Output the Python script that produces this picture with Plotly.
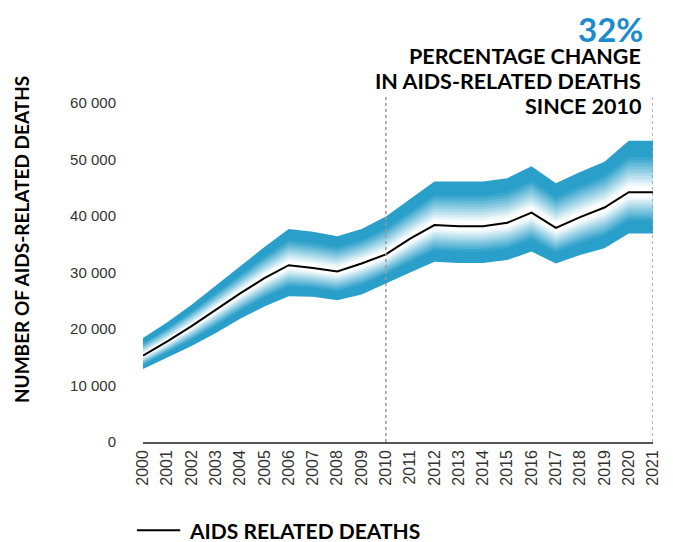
import plotly.graph_objects as go

years = list(range(2000, 2022))
deaths = [15300, 17800, 20500, 23400, 26300, 29000, 31300, 30800, 30200, 31600, 33200,
          36000, 38400, 38200, 38200, 38800, 40600, 37900, 39800, 41500, 44200, 44200]
upper = [18400, 21200, 24300, 27700, 31200, 34500, 37700, 37200, 36400, 37700, 39900,
         43000, 46100, 46100, 46100, 46700, 48800, 45800, 47800, 49600, 53300, 53300]
lower = [12900, 14900, 17000, 19300, 21800, 24000, 25800, 25700, 25100, 26100, 28100,
         30000, 31900, 31700, 31700, 32200, 33700, 31600, 33100, 34300, 36900, 36900]

BLUE = (42, 159, 202)
STEPS = 16


def shade(f):
    # f = 0 at the estimate line, 1 at the bound
    t = (f - 0.1) / 0.6
    t = max(0.0, min(1.0, t))
    r = int(255 + (BLUE[0] - 255) * t)
    g = int(255 + (BLUE[1] - 255) * t)
    b = int(255 + (BLUE[2] - 255) * t)
    return "rgb(%d,%d,%d)" % (r, g, b)


fig = go.Figure()

# gradient band: overlapping polygons, outermost first, so no seams show
for bound in [upper, lower]:
    for k in range(STEPS, 0, -1):
        f = k / STEPS
        ys = [d + (u - d) * f for d, u in zip(deaths, bound)]
        fig.add_trace(go.Scatter(x=years + years[::-1], y=ys + deaths[::-1],
                                 mode="lines", line=dict(width=0),
                                 fill="toself", fillcolor=shade(f - 0.5 / STEPS),
                                 showlegend=False, hoverinfo="skip"))

fig.add_trace(go.Scatter(x=years, y=deaths, mode="lines", name="AIDS RELATED DEATHS",
                         line=dict(color="black", width=2), showlegend=False))

for yr in [2010, 2021]:
    fig.add_shape(type="line", xref="x", yref="paper", x0=yr, x1=yr, y0=0, y1=1.018,
                  line=dict(color="#9a9a9a", width=1.5, dash="dot"), layer="above")

head = dict(family="Lato, Noto Sans, sans-serif", color="black", size=21.5)
fig.add_annotation(text="<b>32%</b>", xref="paper", yref="paper", x=1, y=1.218,
                   xanchor="right", yanchor="middle", xshift=-9, showarrow=False,
                   borderpad=0,
                   font=dict(family="Lato, Noto Sans, sans-serif", color="#1b8ccb", size=33))
for txt, yy in [("PERCENTAGE CHANGE", 1.140), ("IN AIDS-RELATED DEATHS", 1.066),
                ("SINCE 2010", 0.990)]:
    fig.add_annotation(text="<b>%s</b>" % txt, xref="paper", yref="paper", x=1, y=yy,
                       xanchor="right", yanchor="middle", xshift=-10, showarrow=False,
                       font=head)

fig.add_annotation(text="<b>NUMBER OF AIDS-RELATED DEATHS</b>", xref="paper", yref="paper",
                   x=-0.237, y=0.596, textangle=-90, xanchor="center", yanchor="middle",
                   showarrow=False,
                   font=dict(family="Lato, Noto Sans, sans-serif", color="black", size=19))

# legend drawn by hand to match the reference spacing
fig.add_shape(type="line", xref="paper", yref="paper", x0=-0.012, x1=0.073,
              y0=-0.26, y1=-0.26, line=dict(color="black", width=2))
fig.add_annotation(text="<b>AIDS RELATED DEATHS</b>", xref="paper", yref="paper",
                   x=0.086, y=-0.26, xanchor="left", yanchor="middle", showarrow=False,
                   font=dict(family="Lato, Noto Sans, sans-serif", color="black", size=21))

fig.update_layout(
    width=657, height=534,
    margin=dict(l=135, r=12, t=95, b=100, autoexpand=False),
    paper_bgcolor="white", plot_bgcolor="white",
    separators=". ",
    showlegend=False,
    xaxis=dict(range=[2000, 2021], tickmode="array", tickvals=years,
               ticktext=[str(y) for y in years], tickangle=-90, automargin=False,
               showgrid=False, zeroline=False, showline=True,
               linecolor="#555555", linewidth=1.5,
               tickfont=dict(family="Liberation Sans, Arial, sans-serif", size=16,
                             color="#333333")),
    yaxis=dict(range=[0, 60000], tickvals=[0, 10000, 20000, 30000, 40000, 50000, 60000],
               tickformat=",d", showgrid=False, zeroline=False, showline=False,
               ticklabelstandoff=26, automargin=False,
               tickfont=dict(family="Liberation Sans, Arial, sans-serif", size=15,
                             color="#333333")),
)

fig.write_html("out.html")
